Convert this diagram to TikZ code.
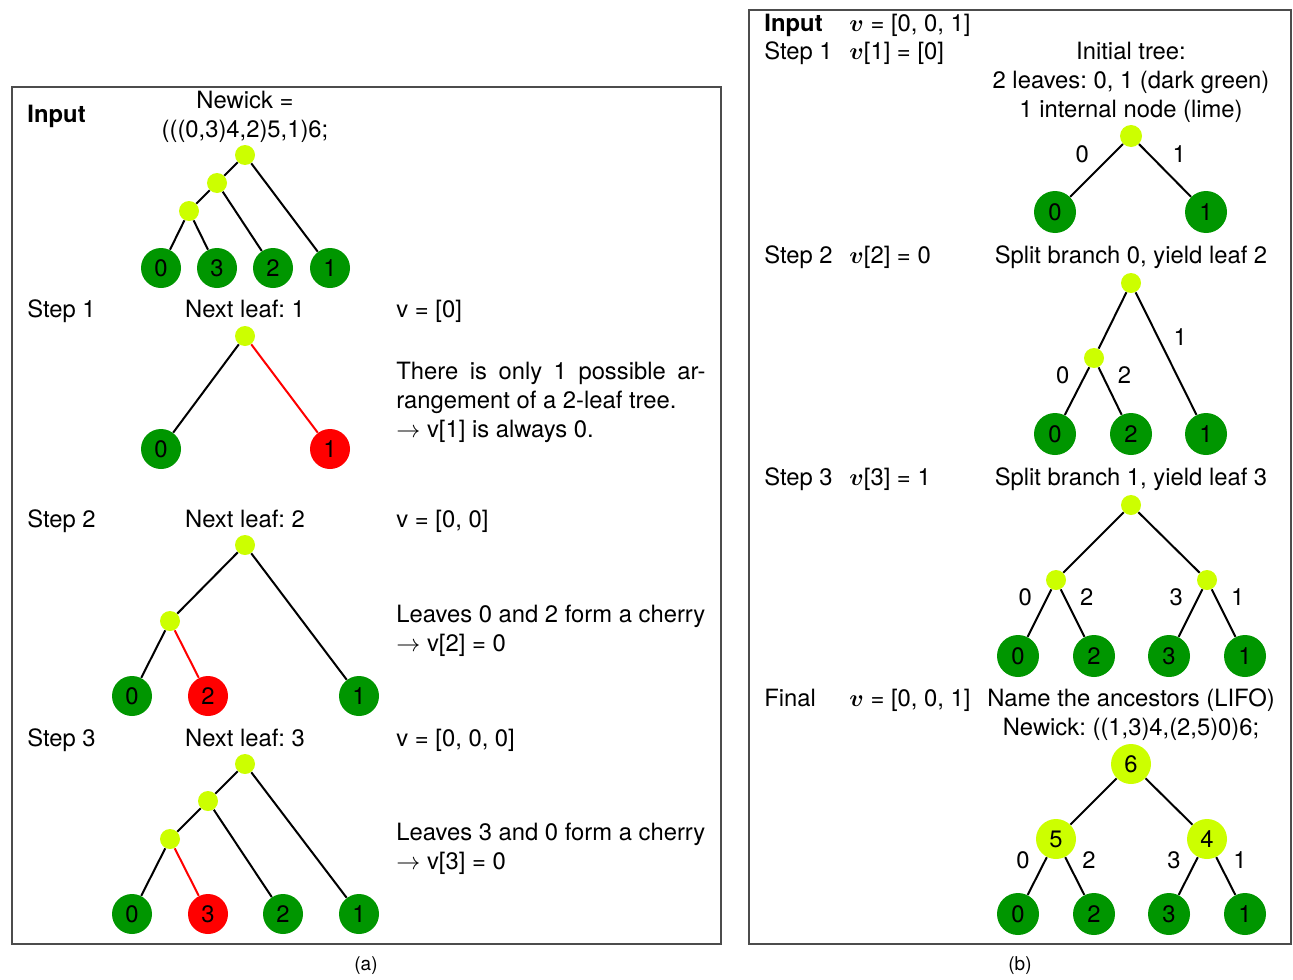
\documentclass[tikz,border=0pt]{standalone}
\usepackage{fontspec}
\setmainfont{TeX Gyre Heros}
\usepackage{bm}
\definecolor{leafgreen}{RGB}{0,150,0}
\definecolor{limegreen}{RGB}{204,255,0}
\frenchspacing

\begin{document}
\begin{tikzpicture}[x=0.5pt, y=-0.5pt,
    every node/.style={font=\fontsize{11.9}{14.5}\selectfont},
    leaf/.style={circle, fill=leafgreen, inner sep=0pt, minimum size=20pt},
    pick/.style={leaf, fill=red},
    joint/.style={circle, fill=limegreen, inner sep=0pt, minimum size=10pt},
    bigjoint/.style={joint, minimum size=20pt},
    branch/.style={line width=1pt},
    newbranch/.style={branch, red},
    txt/.style={anchor=west, inner sep=0pt, text depth=0pt},
    head/.style={align=center, inner sep=0pt, text depth=0pt},
    frame/.style={draw=black!70, line width=0.6pt}]
  \useasboundingbox (0,0) rectangle (1293,979);

  % (a) building the tree leaf by leaf
  \draw[frame] (12,87) rectangle (721,944);
  \node[txt] (inA) at (27,114) {\bfseries Input};
  \node[head] (nwA) at (245,114) {Newick =\\(((0,3)4,2)5,1)6;};
  \node[joint] (a0r) at (245,155) {};
  \node[joint] (a0m) at (217,183) {};
  \node[joint] (a0n) at (189,211) {};
  \node[leaf] (a0l0) at (161,268) {0};
  \node[leaf] (a0l3) at (217,268) {3};
  \node[leaf] (a0l2) at (273,268) {2};
  \node[leaf] (a0l1) at (330,268) {1};
  \draw[branch] (a0r) -- (a0m) (a0r) -- (a0l1) (a0m) -- (a0n) (a0m) -- (a0l2)
    (a0n) -- (a0l0) (a0n) -- (a0l3);

  \node[txt] (s1A) at (27,309) {Step 1};
  \node[head] (nx1) at (245,309) {Next leaf: 1};
  \node[txt] (v1A) at (396,309) {v = [0]};
  \node[joint] (a1r) at (245,336) {};
  \node[leaf] (a1l0) at (161,449) {0};
  \node[pick] (a1l1) at (330,449) {1};
  \draw[branch] (a1r) -- (a1l0);
  \draw[newbranch] (a1r) -- (a1l1);
  \node[txt, align=left] (nt1) at (396,400)
    {\hbox to 154.5pt{There\hfill is\hfill only\hfill 1\hfill possible\hfill ar-}\\
     rangement of a 2-leaf tree.\\
     $\rightarrow$ v[1] is always 0.};

  \node[txt] (s2A) at (27,519) {Step 2};
  \node[head] (nx2) at (245,519) {Next leaf: 2};
  \node[txt] (v2A) at (396,519) {v = [0, 0]};
  \node[joint] (a2r) at (245,545) {};
  \node[joint] (a2m) at (170,621) {};
  \node[leaf] (a2l0) at (132,696) {0};
  \node[pick] (a2l2) at (208,696) {2};
  \node[leaf] (a2l1) at (359,696) {1};
  \draw[branch] (a2r) -- (a2m) (a2r) -- (a2l1) (a2m) -- (a2l0);
  \draw[newbranch] (a2m) -- (a2l2);
  \node[txt, align=left] (nt2) at (396,628.5)
    {Leaves 0 and 2 form a cherry\\$\rightarrow$ v[2] = 0};

  \node[txt] (s3A) at (27,738) {Step 3};
  \node[head] (nx3) at (245,738) {Next leaf: 3};
  \node[txt] (v3A) at (396,738) {v = [0, 0, 0]};
  \node[joint] (a3r) at (245,764) {};
  \node[joint] (a3m) at (208,801) {};
  \node[joint] (a3n) at (170,839) {};
  \node[leaf] (a3l0) at (132,914) {0};
  \node[pick] (a3l3) at (208,914) {3};
  \node[leaf] (a3l2) at (283,914) {2};
  \node[leaf] (a3l1) at (359,914) {1};
  \draw[branch] (a3r) -- (a3m) (a3r) -- (a3l1) (a3m) -- (a3n) (a3m) -- (a3l2)
    (a3n) -- (a3l0);
  \draw[newbranch] (a3n) -- (a3l3);
  \node[txt, align=left] (nt3) at (396,846.5)
    {Leaves 3 and 0 form a cherry\\$\rightarrow$ v[3] = 0};

  \node[font=\fontsize{9.5}{11}\selectfont] (capA) at (366,966) {(a)};

  % (b) decoding the vector
  \draw[frame] (749,10) rectangle (1291,944);
  \node[txt] (inB) at (764,23) {\bfseries Input};
  \node[txt] (vB) at (849,23) {$\bm{v}$ = [0, 0, 1]};
  \node[txt] (s1B) at (764,51) {Step 1};
  \node[txt] (v1B) at (849,51) {$\bm{v}$[1] = [0]};
  \node[head] (hd1) at (1131,80)
    {Initial tree:\\2 leaves: 0, 1 (dark green)\\1 internal node (lime)};
  \node[joint, minimum size=11pt] (b1r) at (1131,136) {};
  \node[leaf, minimum size=21pt] (b1l0) at (1055,212) {0};
  \node[leaf, minimum size=21pt] (b1l1) at (1206,212) {1};
  \draw[branch] (b1r) -- node[above left] {0} (b1l0);
  \draw[branch] (b1r) -- node[above right] {1} (b1l1);

  \node[txt] (s2B) at (764,255) {Step 2};
  \node[txt] (v2B) at (849,255) {$\bm{v}$[2] = 0};
  \node[head] (hd2) at (1131,255) {Split branch 0, yield leaf 2};
  \node[joint] (b2r) at (1131,283) {};
  \node[joint] (b2m) at (1094,358) {};
  \node[leaf, minimum size=21pt] (b2l0) at (1055,434) {0};
  \node[leaf, minimum size=21pt] (b2l2) at (1131,434) {2};
  \node[leaf, minimum size=21pt] (b2l1) at (1206,434) {1};
  \draw[branch] (b2r) -- (b2m);
  \draw[branch] (b2r) -- node[above right] {1} (b2l1);
  \draw[branch] (b2m) -- node[above left] {0} (b2l0);
  \draw[branch] (b2m) -- node[above right] {2} (b2l2);

  \node[txt] (s3B) at (764,477) {Step 3};
  \node[txt] (v3B) at (849,477) {$\bm{v}$[3] = 1};
  \node[head] (hd3) at (1131,477) {Split branch 1, yield leaf 3};
  \node[joint] (b3r) at (1131,505) {};
  \node[joint] (b3m) at (1056,580) {};
  \node[joint] (b3n) at (1207,580) {};
  \node[leaf, minimum size=21pt] (b3l0) at (1018,656) {0};
  \node[leaf, minimum size=21pt] (b3l2) at (1094,656) {2};
  \node[leaf, minimum size=21pt] (b3l3) at (1169,656) {3};
  \node[leaf, minimum size=21pt] (b3l1) at (1245,656) {1};
  \draw[branch] (b3r) -- (b3m) (b3r) -- (b3n);
  \draw[branch] (b3m) -- node[above left] {0} (b3l0);
  \draw[branch] (b3m) -- node[above right] {2} (b3l2);
  \draw[branch] (b3n) -- node[above left] {3} (b3l3);
  \draw[branch] (b3n) -- node[above right] {1} (b3l1);

  \node[txt] (fnB) at (764,698) {Final};
  \node[txt] (v4B) at (849,698) {$\bm{v}$ = [0, 0, 1]};
  \node[head] (hd4) at (1131,712.5)
    {Name the ancestors (LIFO)\\Newick: ((1,3)4,(2,5)0)6;};
  \node[bigjoint] (b4r) at (1131,764) {6};
  \node[bigjoint] (b4m) at (1056,839) {5};
  \node[bigjoint] (b4n) at (1207,839) {4};
  \node[leaf, minimum size=21pt] (b4l0) at (1018,914) {0};
  \node[leaf, minimum size=21pt] (b4l2) at (1094,914) {2};
  \node[leaf, minimum size=21pt] (b4l3) at (1169,914) {3};
  \node[leaf, minimum size=21pt] (b4l1) at (1245,914) {1};
  \draw[branch] (b4r) -- (b4m) (b4r) -- (b4n);
  \draw[branch] (b4m) -- node[above left] {0} (b4l0);
  \draw[branch] (b4m) -- node[above right] {2} (b4l2);
  \draw[branch] (b4n) -- node[above left] {3} (b4l3);
  \draw[branch] (b4n) -- node[above right] {1} (b4l1);

  \node[font=\fontsize{9.5}{11}\selectfont] (capB) at (1020,966) {(b)};
\end{tikzpicture}
\end{document}
